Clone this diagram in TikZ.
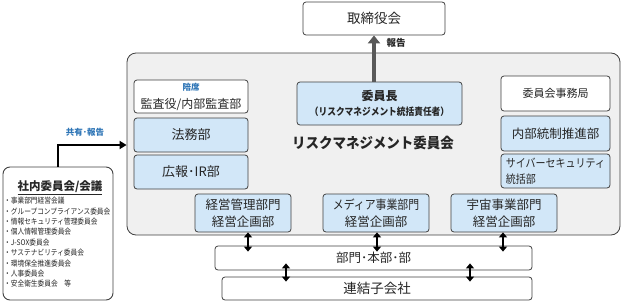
\documentclass[tikz,border=0pt]{standalone}
\usepackage{fontspec}
\setmainfont{Noto Sans CJK JP}
\newfontfamily\jpn{Noto Sans CJK JP}[FakeStretch=0.87]
\newfontfamily\jpm{Noto Sans CJK JP}[FakeStretch=0.93]
\usetikzlibrary{arrows.meta,calc}
\definecolor{lblue}{HTML}{D2E7F8}
\definecolor{panelgray}{HTML}{F0F0F0}
\definecolor{edge}{HTML}{404040}
\definecolor{txtblue}{HTML}{2E75B6}
\definecolor{arrgray}{HTML}{595959}
\tikzset{
  bx/.style={draw=edge, line width=0.8pt, rounded corners=3pt, inner sep=0pt, align=center, font=\fontsize{12.5}{16}\selectfont, text=black!85},
  wbox/.style={bx, fill=white},
  bbox/.style={bx, fill=lblue},
  dbl/.style={line width=1.8pt, {Triangle[width=8pt,length=5pt]}-{Triangle[width=8pt,length=5pt]}},
}
\begin{document}
\begin{tikzpicture}[x=1pt,y=-1pt]
\useasboundingbox (0,0) rectangle (622,303);
% panel
\node[draw=edge, line width=0.8pt, fill=panelgray, rounded corners=9pt, minimum width=493pt, minimum height=182pt] (panel) at (373.5,144) {};
% top
\node[wbox, minimum width=142pt, minimum height=33pt, font=\fontsize{13.5}{16}\selectfont] (board) at (374,18.5) {取締役会};
% left column
\node[wbox, minimum width=114pt, minimum height=33pt] (audit) at (191,96.5) {};
\node[font=\bfseries\fontsize{8.5}{9}\selectfont, text=txtblue] (baiseki) at (191,87) {陪席};
\node[font=\fontsize{12}{13}\selectfont, text=black!85] (auditt) at (191,105) {監査役/内部監査部};
\node[bbox, minimum width=114pt, minimum height=34pt, font=\fontsize{13}{16}\selectfont] (houmu) at (191,135) {法務部};
\node[bbox, minimum width=114pt, minimum height=34pt, font=\fontsize{13}{16}\selectfont] (kouhou) at (191,172) {広報･IR部};
% chairman
\node[bbox, minimum width=165pt, minimum height=43pt, font=\bfseries\fontsize{12}{15}\selectfont] (chair) at (379.5,103.5) {委員長\\{\jpn\fontsize{10}{12}\selectfont （リスクマネジメント統括責任者）}};
\node[font=\jpm\bfseries\fontsize{14.5}{16}\selectfont, text=black!85] (title) at (373,143) {リスクマネジメント委員会};
% right column
\node[wbox, minimum width=109pt, minimum height=35pt, font=\fontsize{11}{13}\selectfont] (jimu) at (555.5,93.5) {委員会事務局};
\node[bbox, minimum width=109pt, minimum height=35pt, font=\fontsize{12.5}{14}\selectfont] (naibu) at (555.5,133.5) {内部統制推進部};
\node[bbox, minimum width=109pt, minimum height=34pt, align=left, font=\jpn\fontsize{11.5}{16}\selectfont] (cyber) at (555.5,171) {サイバーセキュリティ\\統括部};
% bottom row in panel
\node[bbox, minimum width=96pt, minimum height=38pt, font=\fontsize{12.5}{17}\selectfont] (keiei) at (243,213) {経営管理部門\\経営企画部};
\node[bbox, minimum width=106pt, minimum height=38pt, font=\fontsize{12.5}{17}\selectfont] (media) at (376,213) {{\jpn メディア事業部門}\\経営企画部};
\node[bbox, minimum width=106pt, minimum height=38pt, font=\fontsize{12.5}{17}\selectfont] (uchu) at (504,213) {宇宙事業部門\\経営企画部};
% lower boxes
\node[wbox, minimum width=317pt, minimum height=24pt] (bumon) at (373.5,258) {部門･本部･部};
\node[wbox, minimum width=310pt, minimum height=23pt, font=\fontsize{13.5}{15}\selectfont] (renketsu) at (377,288.5) {連結子会社};
% left box
\node[draw=edge, line width=0.9pt, fill=white, rounded corners=7pt, minimum width=110pt, minimum height=133pt] (shanai) at (58,233.5) {};
\node[font=\bfseries\fontsize{11.5}{13}\selectfont, text=black!85] (shanait) at (60,188) {\underline{社内委員会/会議}};
\node[anchor=north west, align=left, inner sep=0pt, font=\jpn\fontsize{7.7}{10.4}\selectfont, text=black!85] (list) at (4,197) {・事業部門経営会議\\・グループコンプライアンス委員会\\・情報セキュリティ管理委員会\\・個人情報管理委員会\\・J-SOX委員会\\・サステナビリティ委員会\\・環境保全推進委員会\\・人事委員会\\・安全衛生委員会　等};
% connectors
\draw[line width=2.6pt, -{Triangle[width=8pt,length=7pt]}] (shanai.north) |- (panel.west |- 0,145);
\node[font=\bfseries\fontsize{8.5}{10}\selectfont, text=txtblue] (kyoyu) at (85,132) {共有･報告};
\draw[arrgray, line width=4.5pt, -{Triangle[width=12pt,length=8pt]}] (board.south |- chair.north) -- (board.south);
\node[font=\bfseries\fontsize{9.5}{10}\selectfont, text=black!85] (houkoku) at (396,43) {報告};
\draw[dbl, shorten >=-6pt] ([xshift=5pt]keiei.south) -- ([xshift=5pt]keiei.south |- bumon.north);
\draw[dbl, shorten >=-6pt] ([xshift=1pt]media.south) -- ([xshift=1pt]media.south |- bumon.north);
\draw[dbl, shorten >=-6pt] ([xshift=-1pt]uchu.south) -- ([xshift=-1pt]uchu.south |- bumon.north);
\coordinate (b1) at ([xshift=-87.5pt]bumon.south);
\coordinate (b2) at ([xshift=96.5pt]bumon.south);
\draw[dbl, shorten <=-7pt, shorten >=-5pt] (b1) -- (b1 |- renketsu.north);
\draw[dbl, shorten <=-7pt, shorten >=-5pt] (b2) -- (b2 |- renketsu.north);
\end{tikzpicture}
\end{document}
